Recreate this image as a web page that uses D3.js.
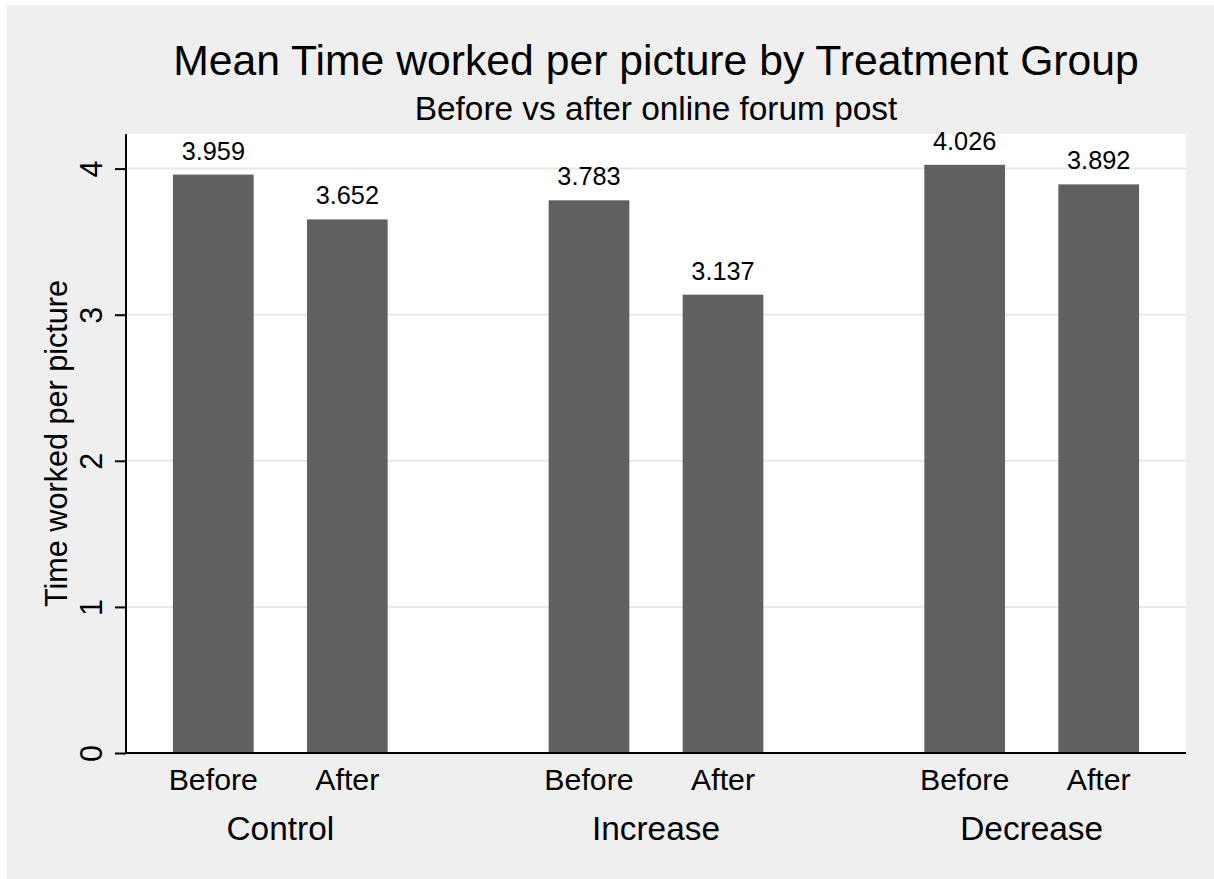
<!DOCTYPE html>
<html>
<head>
<meta charset="utf-8">
<script src="https://cdn.jsdelivr.net/npm/d3@7"></script>
<style>
html,body{margin:0;padding:0;background:#fff;}
svg{display:block;}
text{font-family:"Liberation Sans", Arial, Helvetica, sans-serif;fill:#000;}
</style>
</head>
<body>
<svg id="chart" width="1214" height="879"></svg>
<script>
const groups = ["Control", "Increase", "Decrease"];
const periods = ["Before", "After"];
const beforeValues = [3.959, 3.783, 4.026];
const afterValues = [3.652, 3.137, 3.892];
const yTicks = [0, 1, 2, 3, 4];
const titleText = "Mean Time worked per picture by Treatment Group";
const subtitleText = "Before vs after online forum post";
const yTitle = "Time worked per picture";

const data = [];
groups.forEach((g, i) => {
  data.push({group: g, period: "Before", value: beforeValues[i]});
  data.push({group: g, period: "After", value: afterValues[i]});
});

const W = 1214, H = 879;
const plot = {left: 126, right: 1186, top: 134, bottom: 753};
const svg = d3.select("#chart");

svg.append("rect").attr("x", 7).attr("y", 5).attr("width", W - 7).attr("height", H - 5).attr("fill", "#efefef");
svg.append("rect").attr("x", plot.left).attr("y", plot.top)
  .attr("width", plot.right - plot.left).attr("height", plot.bottom - plot.top).attr("fill", "#fff");

const y = d3.scaleLinear().domain([0, 4]).range([plot.bottom, 168.6]);
const xg = d3.scaleBand().domain(groups).range([plot.left, plot.right]).paddingInner(0.4285).paddingOuter(0.125);
const xp = d3.scaleBand().domain(periods).range([0, xg.bandwidth()]).paddingInner(0.398).paddingOuter(0);

// gridlines
svg.append("g").selectAll("line").data(yTicks.filter(d => d > 0)).join("line")
  .attr("x1", plot.left).attr("x2", plot.right)
  .attr("y1", d => y(d)).attr("y2", d => y(d))
  .attr("stroke", "#e8e8e8").attr("stroke-width", 2);

// bars
svg.append("g").selectAll("rect").data(data).join("rect")
  .attr("x", d => xg(d.group) + xp(d.period))
  .attr("width", xp.bandwidth())
  .attr("y", d => y(d.value))
  .attr("height", d => y(0) - y(d.value))
  .attr("fill", "#606060");

// bar labels
svg.append("g").selectAll("text").data(data).join("text")
  .attr("x", d => xg(d.group) + xp(d.period) + xp.bandwidth() / 2)
  .attr("y", d => y(d.value) - 15)
  .attr("text-anchor", "middle")
  .attr("font-size", 25.3)
  .text(d => d.value.toFixed(3));

// y axis
const yAxis = d3.axisLeft(y).tickValues(yTicks).tickSize(11).tickFormat(d3.format("d"));
const ya = svg.append("g").attr("transform", `translate(${plot.left},0)`).call(yAxis);
ya.select(".domain").attr("d", `M0,${plot.top}V${plot.bottom}`).attr("stroke", "#000").attr("stroke-width", 2);
ya.selectAll(".tick line").attr("stroke", "#000").attr("stroke-width", 2);
ya.selectAll(".tick text")
  .attr("x", null).attr("dy", null)
  .attr("transform", "translate(-24.5,0) rotate(-90)")
  .attr("text-anchor", "middle")
  .attr("font-size", 30.5)
  .attr("font-family", "Liberation Sans, Arial, sans-serif")
  .attr("fill", "#000");

// x axis line
svg.append("line").attr("x1", plot.left).attr("x2", plot.right)
  .attr("y1", plot.bottom).attr("y2", plot.bottom)
  .attr("stroke", "#000").attr("stroke-width", 2);

// period labels
svg.append("g").selectAll("text").data(data).join("text")
  .attr("x", d => xg(d.group) + xp(d.period) + xp.bandwidth() / 2)
  .attr("y", 790)
  .attr("text-anchor", "middle")
  .attr("font-size", 30.3)
  .text(d => d.period);

// group labels
svg.append("g").selectAll("text").data(groups).join("text")
  .attr("x", d => xg(d) + xg.bandwidth() / 2)
  .attr("y", 840)
  .attr("text-anchor", "middle")
  .attr("font-size", 33.4)
  .text(d => d);

// titles
svg.append("text").attr("x", 656).attr("y", 75).attr("text-anchor", "middle")
  .attr("font-size", 42.7).text(titleText);
svg.append("text").attr("x", 656).attr("y", 120).attr("text-anchor", "middle")
  .attr("font-size", 33.4).text(subtitleText);

// y title
svg.append("text").attr("transform", `translate(67,${(plot.top + plot.bottom) / 2}) rotate(-90)`)
  .attr("text-anchor", "middle").attr("font-size", 30.6).text(yTitle);
</script>
</body>
</html>
